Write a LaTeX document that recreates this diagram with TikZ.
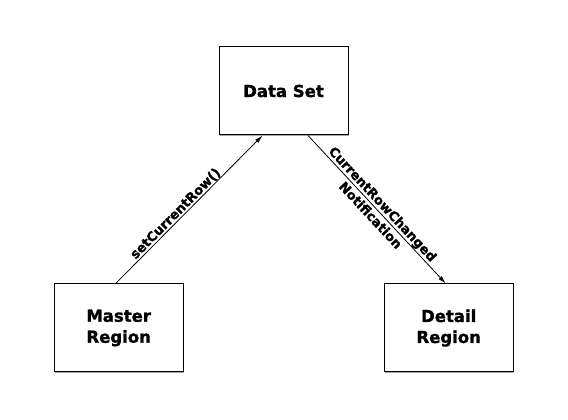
\documentclass[tikz,border=0pt]{standalone}
\usepackage{fontspec}
\setmainfont{DejaVu Sans}[BoldFeatures={FakeBold=1.3}]
\usetikzlibrary{arrows.meta,calc,shadows}
\begin{document}
\begin{tikzpicture}[x=1pt,y=1pt,
  box/.style={draw=black, line width=1pt, fill=white, minimum width=129pt, minimum height=88pt,
    align=center, inner sep=0pt, font=\fontsize{16.5}{21}\selectfont\bfseries,
    drop shadow={shadow xshift=1.2pt, shadow yshift=-1.2pt, fill=gray!70, opacity=1}},
  conn/.style={line width=0.8pt, -{Latex[length=8pt,width=4.5pt]}},
  lbl/.style={font=\fontsize{13}{16.5}\selectfont\bfseries, sloped, inner sep=0.5pt}
]
\useasboundingbox (0,0) rectangle (568,420);
\node[box] (ds) at (283.5,329) {Data Set};
\node[box] (m) at (118.7,92) {Master\\Region};
\node[box] (d) at (448.7,92) {Detail\\Region};
\draw[conn] ($(m.north)+(-3,0)$) -- node[lbl, above, pos=0.44] (l1) {setCurrentRow()} ($(ds.south)+(-21,0)$);
\draw[conn] ($(ds.south)+(24.5,0)$) -- node[lbl, align=center, midway] (l2) {CurrentRowChanged\\Notification} ($(d.north)+(-3,0)$);
\end{tikzpicture}
\end{document}
